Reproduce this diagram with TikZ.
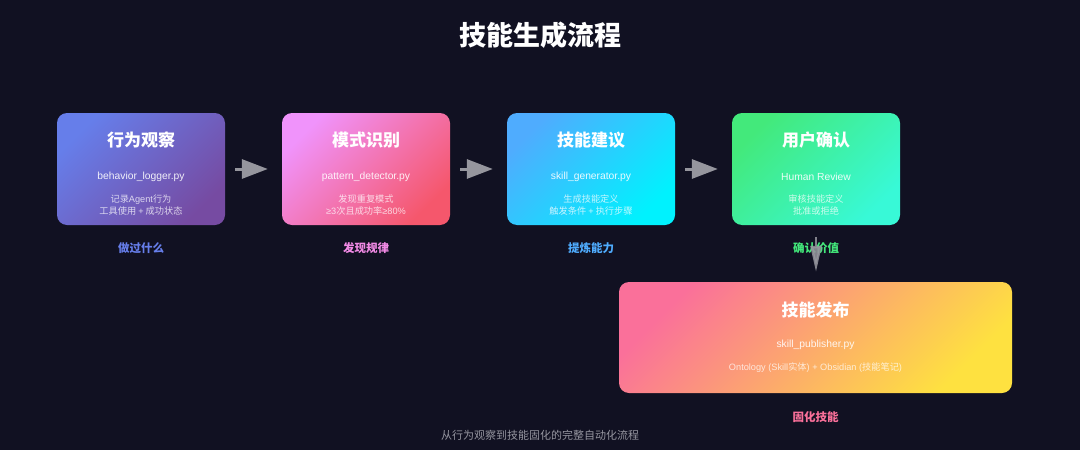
\documentclass[tikz,border=0pt]{standalone}
\usepackage{fontspec}
\setmainfont{Noto Sans CJK SC}
\newfontfamily\latinfont{Liberation Sans}
\usetikzlibrary{arrows.meta, positioning, shadings}
\definecolor{bgnavy}{RGB}{17,17,34}
\definecolor{obsA}{HTML}{667EEA}
\definecolor{obsB}{HTML}{764BA2}
\definecolor{patA}{HTML}{F093FB}
\definecolor{patB}{HTML}{F5576C}
\definecolor{genA}{HTML}{4FACFE}
\definecolor{genB}{HTML}{00F2FE}
\definecolor{revA}{HTML}{43E97B}
\definecolor{revB}{HTML}{38F9D7}
\definecolor{pubA}{HTML}{FA709A}
\definecolor{pubB}{HTML}{FEE140}
\definecolor{arrowgray}{RGB}{150,150,158}
\definecolor{captiongray}{RGB}{150,150,160}

\begin{document}
\begin{tikzpicture}[x=1pt, y=-1pt,
  stagebox/.style={rounded corners=10pt, minimum width=168pt, minimum height=112pt, inner sep=0pt, shading angle=45},
  stagetitle/.style={font=\fontsize{17}{20}\selectfont\bfseries, text=white},
  codetext/.style={font=\latinfont\fontsize{10.3}{12}\selectfont, text=white, text opacity=0.9},
  desctext/.style={font=\fontsize{9.2}{12}\selectfont, text=white, text opacity=0.75, align=center},
  steplabel/.style={font=\fontsize{11.5}{14}\selectfont\bfseries},
  flow/.style={line width=3pt, arrowgray, -{Triangle[length=26pt, width=19pt]}},
  flowdown/.style={line width=2.5pt, arrowgray, opacity=0.85, -{Triangle[length=26pt, width=11pt]}},
]
% background
\fill[bgnavy] (0,0) rectangle (1080,450);
\useasboundingbox (0,0) rectangle (1080,450);

% title
\node[font=\fontsize{27}{32}\selectfont\bfseries, text=white] (title) at (540,35) {技能生成流程};

% === Stage boxes ===
\node[stagebox, left color=obsA, right color=obsB, shading angle=45] (obs) at (141,169) {};
\node[stagebox, left color=patA, right color=patB, shading angle=45] (pat) at (366,169) {};
\node[stagebox, left color=genA, right color=genB, shading angle=45] (gen) at (591,169) {};
\node[stagebox, left color=revA, right color=revB, shading angle=45] (rev) at (816,169) {};
\node[stagebox, minimum width=393pt, minimum height=111pt, left color=pubA, right color=pubB, shading angle=45] (pub) at (815.5,337.5) {};

% texts inside
\node[stagetitle] (obstitle) at (141,140) {行为观察};
\node[codetext] (obscode) at (141,177) {behavior\_logger.py};
\node[desctext] (obsdesc) at (141,205) {记录{\latinfont Agent}行为\\工具使用 {\latinfont +} 成功状态};

\node[stagetitle] (pattitle) at (366,140) {模式识别};
\node[codetext] (patcode) at (366,177) {pattern\_detector.py};
\node[desctext] (patdesc) at (366,205) {发现重复模式\\{\latinfont ≥3}次且成功率{\latinfont ≥80\%}};

\node[stagetitle] (gentitle) at (591,140) {技能建议};
\node[codetext] (gencode) at (591,177) {skill\_generator.py};
\node[desctext] (gendesc) at (591,205) {生成技能定义\\触发条件 {\latinfont +} 执行步骤};

\node[stagetitle] (revtitle) at (816,140) {用户确认};
\node[codetext] (revcode) at (816,177) {Human Review};
\node[desctext] (revdesc) at (816,205) {审核技能定义\\批准或拒绝};

\node[stagetitle] (pubtitle) at (815.5,310) {技能发布};
\node[codetext] (pubcode) at (815.5,345) {skill\_publisher.py};
\node[desctext] (pubdesc) at (815.5,368) {{\latinfont Ontology (Skill}实体{\latinfont ) + Obsidian (}技能笔记{\latinfont )}};

% labels below
\node[steplabel, text=obsA] (obslabel) at (141,248) {做过什么};
\node[steplabel, text=patA!85!patB] (patlabel) at (366,248) {发现规律};
\node[steplabel, text=genA] (genlabel) at (591,248) {提炼能力};
\node[steplabel, text=revA] (revlabel) at (816,248) {确认价值};
\node[steplabel, text=pubA] (publabel) at (815.5,417) {固化技能};

% arrows
\draw[flow, shorten <=10pt, shorten >=14pt] (obs) -- (pat);
\draw[flow, shorten <=10pt, shorten >=14pt] (pat) -- (gen);
\draw[flow, shorten <=10pt, shorten >=14pt] (gen) -- (rev);
\draw[flowdown, shorten <=12pt, shorten >=10pt] (rev) -- (rev |- pub.north);

% caption
\node[font=\fontsize{11}{13}\selectfont, text=captiongray] (caption) at (540,435) {从行为观察到技能固化的完整自动化流程};
\end{tikzpicture}
\end{document}
